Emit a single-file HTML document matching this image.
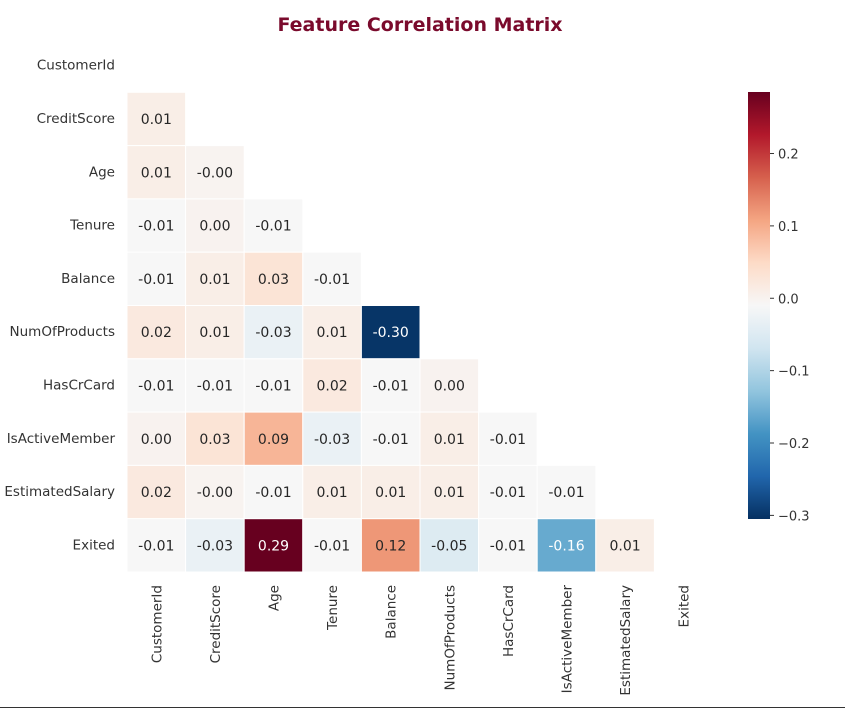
<!DOCTYPE html>
<html><head><meta charset="utf-8"><style>
body{margin:0;background:#fff;width:845px;height:709px;overflow:hidden;font-family:"DejaVu Sans","Liberation Sans",sans-serif;}
svg text{font-family:"DejaVu Sans","Liberation Sans",sans-serif;}
</style></head><body>
<svg id="chart" width="845" height="709" xmlns="http://www.w3.org/2000/svg">
<text x="420" y="31" text-anchor="middle" font-size="19" font-weight="bold" fill="#7a0a2c">Feature Correlation Matrix</text>
<g id="cells"></g><g id="labels"></g><g id="cbar"></g>
<line x1="0" y1="707.5" x2="845" y2="707.5" stroke="#333" stroke-width="1"/>
</svg>
<script>
const features=["CustomerId","CreditScore","Age","Tenure","Balance","NumOfProducts","HasCrCard","IsActiveMember","EstimatedSalary","Exited"];
const row1=[0.01];
const row2=[0.01,-0.001];
const row3=[-0.01,0.00,-0.01];
const row4=[-0.01,0.01,0.03,-0.01];
const row5=[0.02,0.01,-0.03,0.01,-0.30];
const row6=[-0.01,-0.01,-0.01,0.02,-0.01,0.00];
const row7=[0.00,0.03,0.09,-0.03,-0.01,0.01,-0.01];
const row8=[0.02,-0.001,-0.01,0.01,0.01,0.01,-0.01,-0.01];
const row9=[-0.01,-0.03,0.29,-0.01,0.12,-0.05,-0.01,-0.16,0.01];
const cbarTicks=[0.2,0.1,0.0,-0.1,-0.2,-0.3];
const rows=[[],row1,row2,row3,row4,row5,row6,row7,row8,row9];
const vmin=-0.305,vmax=0.285;
const NS="http://www.w3.org/2000/svg";
const gx=127,gy=39,cw=58.6,ch=53.3;
const stops=["#053061","#2166ac","#4393c3","#92c5de","#d1e5f0","#f7f7f7","#fddbc7","#f4a582","#d6604d","#b2182b","#67001f"];
function hex(h){return [1,3,5].map(i=>parseInt(h.substr(i,2),16));}
function color(v){let t=(v-vmin)/(vmax-vmin);t=Math.max(0,Math.min(1,t));const p=t*10,i=Math.min(9,Math.floor(p)),f=p-i;const a=hex(stops[i]),b=hex(stops[i+1]);return "rgb("+a.map((c,k)=>Math.round(c+(b[k]-c)*f)).join(",")+")";}
function mk(tag,attrs,parent){const e=document.createElementNS(NS,tag);for(const k in attrs)e.setAttribute(k,attrs[k]);parent.appendChild(e);return e;}
function fmt(v){const s=v.toFixed(2);return (v<0&&s==="0.00")?"-0.00":(s==="-0.00"?"-0.00":s);}
const cells=document.getElementById("cells"),labels=document.getElementById("labels"),cbar=document.getElementById("cbar");
rows.forEach((r,i)=>{r.forEach((v,j)=>{
 const rc=mk("rect",{x:gx+j*cw,y:gy+i*ch,width:cw,height:ch,fill:color(v),stroke:"#fff","stroke-width":1},cells);
 
 
 const t=mk("text",{x:gx+j*cw+cw/2,y:gy+i*ch+ch/2+5,"text-anchor":"middle","font-size":14,fill:Math.abs(v)>=0.15?"#fff":"#262626"},cells);
 
 
 t.textContent=fmt(v);
});});
features.forEach((f,i)=>{
 const y=mk("text",{x:115,y:gy+i*ch+ch/2+4,"text-anchor":"end","font-size":13.5,fill:"#333"},labels);
 
 
 y.textContent=f;
 const xx=gx+i*cw+cw/2+5;
 const x=mk("text",{x:0,y:0,"text-anchor":"end","font-size":13.5,fill:"#333",transform:"translate("+xx+",585) rotate(-90)"},labels);
 
 
 x.textContent=f;
});
const cbx=748,cbw=22,cby=92,cbh=427;
const defs=mk("defs",{},cbar);
const lg=mk("linearGradient",{id:"cg",x1:0,y1:1,x2:0,y2:0},defs);
for(let k=0;k<=20;k++){const v=vmin+(vmax-vmin)*k/20;mk("stop",{offset:(k/20),"stop-color":color(v)},lg);}
const cr=mk("rect",{x:cbx,y:cby,width:cbw,height:cbh,fill:"url(#cg)"},cbar);


function cy(v){return cby+(vmax-v)/(vmax-vmin)*cbh;}
cbarTicks.forEach(v=>{
 const y=cy(v);
 mk("line",{x1:cbx+cbw,y1:y,x2:cbx+cbw+4,y2:y,stroke:"#333","stroke-width":1},cbar);
 const t=mk("text",{x:cbx+cbw+8,y:y+5,"font-size":13,fill:"#333"},cbar);
 
 
 t.textContent=(v<0?"\u2212":"")+Math.abs(v).toFixed(1);
});
</script>
</body></html>
